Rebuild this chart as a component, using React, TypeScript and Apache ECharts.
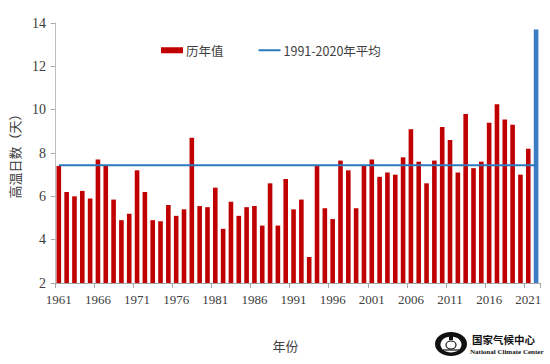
import React, { useEffect, useRef } from "react";
import * as echarts from "echarts";

const years: string[] = [
  "1961","1962","1963","1964","1965","1966","1967","1968","1969","1970",
  "1971","1972","1973","1974","1975","1976","1977","1978","1979","1980",
  "1981","1982","1983","1984","1985","1986","1987","1988","1989","1990",
  "1991","1992","1993","1994","1995","1996","1997","1998","1999","2000",
  "2001","2002","2003","2004","2005","2006","2007","2008","2009","2010",
  "2011","2012","2013","2014","2015","2016","2017","2018","2019","2020",
  "2021","2022",
];

// 1961-2021 historical values (red)
const historical: number[] = [
  7.4, 6.2, 6.0, 6.25, 5.9, 7.7, 7.4, 5.85, 4.9, 5.2,
  7.2, 6.2, 4.9, 4.85, 5.6, 5.1, 5.4, 8.7, 5.55, 5.5,
  6.4, 4.5, 5.75, 5.1, 5.5, 5.55, 4.65, 6.6, 4.65, 6.8,
  5.4, 5.85, 3.2, 7.4, 5.45, 4.95, 7.65, 7.2, 5.45, 7.4,
  7.7, 6.9, 7.1, 7.0, 7.8, 9.1, 7.6, 6.6, 7.65, 9.2,
  8.6, 7.1, 9.8, 7.3, 7.6, 9.4, 10.25, 9.55, 9.3, 7.0,
  8.2,
];

// 2022 value (blue)
const current: number = 13.7;

// 1991-2020 average
const climatology: number = 7.43;

const yTicks = { min: 2, max: 14, interval: 2 };

export default function App() {
  const ref = useRef<HTMLDivElement>(null);

  useEffect(() => {
    if (!ref.current) return;
    const chart = echarts.init(ref.current, undefined, { renderer: "svg" });

    const redData = years.map((_, i) => (i < historical.length ? historical[i] : "-"));
    const blueData = years.map((_, i) => (i === years.length - 1 ? current : "-"));
    const avgData = years.map(() => climatology);

    chart.setOption({
      animation: false,
      backgroundColor: "#ffffff",
      grid: { left: 54, right: 10, top: 23, bottom: 81, containLabel: false },
      legend: {
        left: 161,
        top: 44,
        padding: 0,
        itemGap: 35,
        itemWidth: 22,
        itemHeight: 6,
        textStyle: { fontFamily: "Noto Sans CJK SC", fontSize: 12.5, color: "#404040", padding: [0, 0, 0, -2] },
        data: [
          { name: "历年值", icon: "rect" },
          { name: "1991-2020年平均", icon: "path://M0,0H22V2H0Z" },
        ],
      },
      xAxis: {
        type: "category",
        data: years,
        name: "年份",
        nameLocation: "middle",
        nameGap: 56,
        nameTextStyle: {
          fontFamily: "Noto Sans CJK SC",
          fontSize: 13,
          color: "#404040",
          padding: [0, 24, 0, 0],
        },
        axisLine: { lineStyle: { color: "#a6a6a6", width: 1 } },
        axisTick: { show: true, interval: 4, length: 5, lineStyle: { color: "#a6a6a6" } },
        axisLabel: {
          interval: 4,
          margin: 10,
          fontFamily: "Liberation Serif",
          fontSize: 13,
          color: "#404040",
        },
      },
      yAxis: {
        type: "value",
        min: yTicks.min,
        max: yTicks.max,
        interval: yTicks.interval,
        name: "高温日数（天）",
        nameLocation: "middle",
        nameGap: 29,
        nameTextStyle: { fontFamily: "Noto Sans CJK SC", fontSize: 13, color: "#404040" },
        axisLine: { show: true, lineStyle: { color: "#bfbfbf", width: 1 } },
        axisTick: { show: true, length: 4, lineStyle: { color: "#a6a6a6" } },
        splitLine: { show: false },
        axisLabel: {
          margin: 9,
          fontFamily: "Liberation Serif",
          fontSize: 14,
          color: "#404040",
        },
      },
      series: [
        {
          name: "历年值",
          type: "bar",
          data: redData,
          barWidth: 4.6,
          barGap: "-100%",
          itemStyle: { color: "#c00000" },
          z: 2,
        },
        {
          name: "2022",
          type: "bar",
          data: blueData,
          barWidth: 4.6,
          barGap: "-100%",
          itemStyle: { color: "#3a7dc4" },
          z: 2,
        },
        {
          name: "1991-2020年平均",
          type: "line",
          data: avgData,
          symbol: "none",
          showSymbol: false,
          lineStyle: { color: "#2e78bf", width: 2 },
          itemStyle: { color: "#2e78bf" },
          z: 3,
        },
      ],
      graphic: [
        {
          type: "group",
          children: [
            { type: "ellipse", shape: { cx: 451, cy: 344, rx: 16, ry: 12 }, style: { fill: "#111111" } },
            { type: "ellipse", shape: { cx: 451, cy: 344.5, rx: 10.5, ry: 8 }, style: { fill: "#ffffff" } },
            { type: "ellipse", shape: { cx: 451, cy: 345, rx: 5, ry: 4 }, style: { fill: "none", stroke: "#111111", lineWidth: 1.2 } },
            { type: "rect", shape: { x: 449, y: 336, width: 4, height: 4 }, style: { fill: "#111111" } },
            { type: "line", shape: { x1: 443, y1: 350, x2: 459, y2: 350 }, style: { stroke: "#111111", lineWidth: 1.2 } },
            {
              type: "text",
              x: 472,
              y: 339.5,
              style: {
                text: "国家气候中心",
                fontFamily: "Noto Sans CJK SC",
                fontWeight: "bold",
                fontSize: 10.5,
                fill: "#111111",
                verticalAlign: "middle",
                align: "left",
              },
            },
            {
              type: "text",
              x: 470,
              y: 352,
              style: {
                text: "National Climate Center",
                fontFamily: "Liberation Serif",
                fontWeight: "bold",
                fontSize: 7,
                fill: "#111111",
                verticalAlign: "middle",
                align: "left",
              },
            },
          ],
        },
      ],
    });

    return () => chart.dispose();
  }, []);

  return <div ref={ref} style={{ width: 550, height: 364, position: "absolute", left: 0, top: 0 }} />;
}
